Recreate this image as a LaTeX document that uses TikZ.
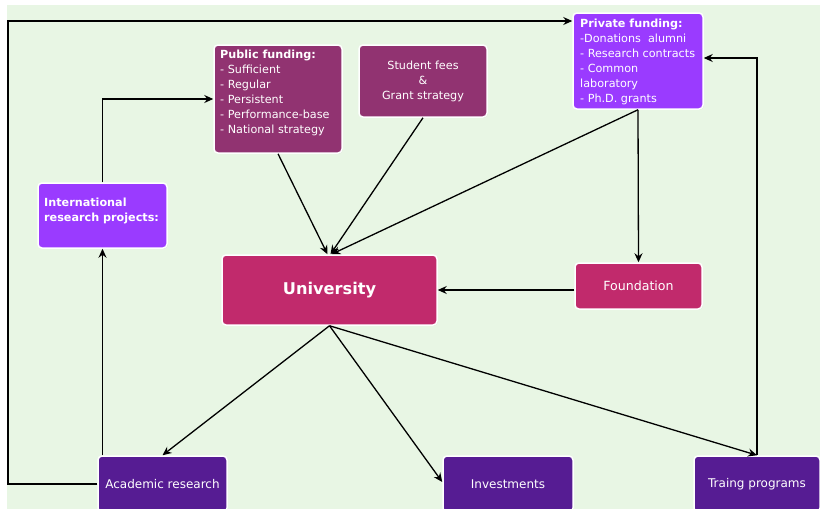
\documentclass[tikz,border=0pt]{standalone}
\usepackage{fontspec}
\setmainfont{DejaVu Sans}
\usetikzlibrary{arrows.meta,shadows}

\definecolor{bgGreen}{HTML}{E8F6E4}
\definecolor{plum}{HTML}{913371}
\definecolor{violet}{HTML}{9A3BFF}
\definecolor{rose}{HTML}{C12A6C}
\definecolor{indigo}{HTML}{561C93}

\tikzset{
  box/.style={draw=white, line width=1.5pt, rounded corners=4pt, inner sep=0pt,
    text=white, align=center,
    drop shadow={opacity=0.12, shadow xshift=0.8pt, shadow yshift=-0.8pt}},
  bodyfont/.style={font=\fontsize{11.2}{15}\selectfont},
  listtext/.style={bodyfont, text=white, align=left, anchor=north west, inner sep=0pt},
  arr/.style={draw=black, line width=1.3pt,
    -{Stealth[length=9pt, width=8pt, inset=3pt]}},
  link/.style={draw=black, line width=1.3pt},
}

\begin{document}
\begin{tikzpicture}[x=1pt, y=-1pt]
  \useasboundingbox (0,0) rectangle (820,509);
  \fill[white] (0,0) rectangle (820,509);
  \clip (0,0) rectangle (820,509);
  \fill[bgGreen] (7,5) rectangle (821,510);

  % funding sources
  \node[box, fill=plum, minimum width=128pt, minimum height=108pt] (pub) at (278,99) {};
  \node[listtext] (pubtxt) at (220,47.5)
    {\strut\textbf{Public funding:}\\- Sufficient\\- Regular\\- Persistent\\- Performance-base\\- National strategy};

  \node[box, fill=plum, bodyfont, minimum width=128pt, minimum height=72pt] (stu) at (423,81)
    {Student fees\\\&\\Grant strategy};

  \node[box, fill=violet, minimum width=130pt, minimum height=96pt] (priv) at (638,61) {};
  \node[listtext] (privtxt) at (580,17)
    {\strut\textbf{Private funding:}\\-Donations\ \ alumni\\- Research contracts\\- Common\\laboratory\\- Ph.D. grants};

  \node[box, fill=violet, minimum width=129pt, minimum height=65pt] (intl) at (102.5,215.5) {};
  \node[listtext] (intltxt) at (44,195.5)
    {\strut\textbf{International}\\\textbf{research projects:}};

  % centre
  \node[box, fill=rose, font=\bfseries\fontsize{16.2}{19}\selectfont,
        minimum width=215pt, minimum height=70pt] (uni) at (329.5,290) {University};
  \node[box, fill=rose, font=\fontsize{12.6}{15}\selectfont,
        minimum width=127pt, minimum height=46pt] (fnd) at (638.5,286) {Foundation};

  % outcomes
  \node[box, fill=indigo, font=\fontsize{12}{15}\selectfont,
        minimum width=129pt, minimum height=56pt] (acad) at (162.5,484) {Academic research};
  \node[box, fill=indigo, font=\fontsize{12}{15}\selectfont,
        minimum width=130pt, minimum height=56pt] (inv) at (508,484) {Investments};
  \node[box, fill=indigo, font=\fontsize{12}{15}\selectfont,
        minimum width=126pt, minimum height=56pt] (tr) at (757,484) {Traing programs};

  % flows into the university
  \draw[arr] (pub.south) -- ([xshift=-2pt]uni.north);
  \draw[arr] (stu.south) -- ([xshift=1pt]uni.north);
  \draw[arr] (priv.south) -- ([xshift=2pt]uni.north);
  \draw[arr] (priv.south) -- (fnd.north);
  \draw[arr] (fnd.west |- uni.east) -- (uni.east);

  % flows out of the university
  \draw[arr] (uni.south) -- (acad.north);
  \draw[arr] (uni.south) -- ([yshift=2pt]inv.west);
  \draw[arr] (uni.south) -- (tr.north);

  % feedback loops
  \draw[arr] (acad.north -| intl.south) -- (intl.south);
  \draw[arr] (intl.north) |- (pub.west);
  \coordinate (loopcorner) at (8,21);
  \draw[arr] (acad.west) -| (loopcorner) -- (loopcorner -| priv.west);
  \draw[arr] (tr.north) |- ([yshift=3pt]priv.east);
\end{tikzpicture}
\end{document}
